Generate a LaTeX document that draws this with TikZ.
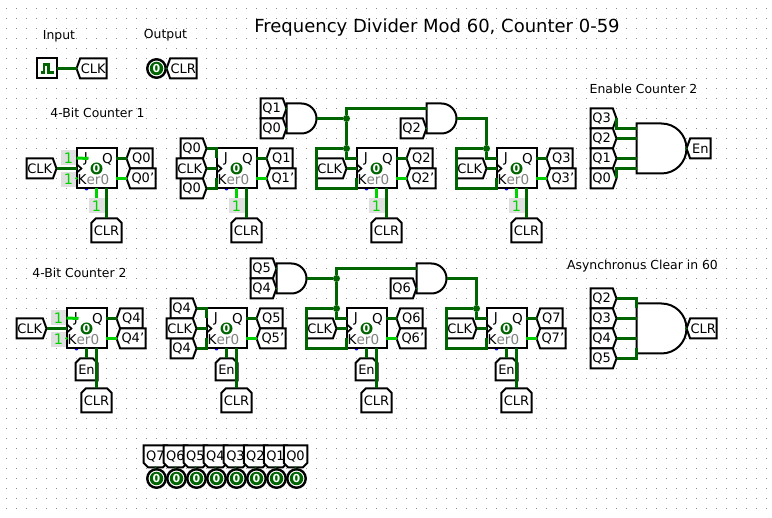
\documentclass[tikz,border=0pt]{standalone}
\usepackage{fontspec}
\setmainfont{DejaVu Sans}
\usetikzlibrary{calc,shapes.symbols,shapes.misc}
\definecolor{dk}{HTML}{006400}
\definecolor{br}{HTML}{00D200}
\definecolor{cg}{HTML}{E0E0E0}
\newcommand{\lbl}{\fontsize{13}{13}\selectfont}
\newcommand{\nlbl}{\fontsize{12.4}{12.4}\selectfont}
\newcommand{\ffl}{\fontsize{13.6}{13.6}\selectfont}
\tikzset{
  tagbase/.style={draw=black,fill=white,line width=2pt,inner sep=0pt,outer sep=0pt,font=\lbl,text=black},
  tagL/.style={tagbase,signal,signal to=west,signal pointer angle=140,minimum height=20,anchor=west},
  tagR/.style={tagbase,signal,signal to=east,signal pointer angle=140,minimum height=20,anchor=east},
  tagU/.style={tagbase,chamfered rectangle,chamfered rectangle corners={north west,north east},chamfered rectangle xsep=2.5pt,chamfered rectangle ysep=2pt,anchor=north},
  tagD/.style={tagbase,chamfered rectangle,chamfered rectangle corners={south west,south east},chamfered rectangle xsep=2.5pt,chamfered rectangle ysep=2pt,anchor=south,minimum width=20,minimum height=22},
  ffbox/.style={draw=black,fill=white,line width=2pt,minimum width=40,minimum height=40,inner sep=0pt,outer sep=0pt},
  wd/.style={draw=dk,line width=3pt},
  wb/.style={draw=br,line width=3pt},
  junc/.style={circle,fill=dk,inner sep=0pt,minimum size=7},
  gate/.style={draw=black,line width=2pt,fill=white},
  cnst/.style={fill=cg,inner sep=0pt,outer sep=0pt,font=\fontsize{14.5}{14.5}\selectfont,text=br,minimum width=16,minimum height=15},
  memo/.style={circle,fill=dk,inner sep=0pt,minimum size=12,text=white,font=\fontsize{11}{11}\selectfont\bfseries},
  ledring/.style={circle,draw=black,line width=2.4pt,fill=white,inner sep=0pt,minimum size=18.5},
  note/.style={font=\nlbl,text=black,inner sep=0pt},
  ffnote/.style={font=\ffl,text=black,inner sep=0pt},
  stub/.style={fill=dk}
}
% flip-flop: name, left x, top y
\newcommand{\flipflop}[3]{%
  \fill[blue] (#2+10,#3+40) circle (2);
  \node[ffbox] (#1) at (#2+20,#3+20) {};
  \coordinate (#1-j) at (#2,#3+10);
  \coordinate (#1-c) at (#2,#3+20);
  \coordinate (#1-k) at (#2,#3+30);
  \coordinate (#1-q) at (#2+40,#3+10);
  \coordinate (#1-n) at (#2+40,#3+30);
  \coordinate (#1-r) at (#2+20,#3+40);
  \coordinate (#1-z) at (#2+30,#3+40);
  \draw[black,line width=1.6pt] (#2,#3+15.5) -- (#2+5,#3+20) -- (#2,#3+24.5);
  \node[ffnote] (#1-J) at (#2+9.5,#3+10) {J};
  \node[ffnote] (#1-Q) at (#2+31,#3+11) {Q};
  \node[memo] (#1-M) at (#2+20,#3+20) {0};
  \node[ffnote,anchor=west] (#1-L) at (#2+1,#3+31.5) {K\textcolor{gray}{er0}};
}
% small AND gate: name, left x, centre y
\newcommand{\andsmall}[3]{%
  \draw[gate] (#2,#3-15) -- (#2+15,#3-15) arc[start angle=90,end angle=-90,radius=15pt] -- (#2,#3+15) -- cycle;
  \coordinate (#1-a) at (#2,#3-10);
  \coordinate (#1-b) at (#2,#3+10);
  \coordinate (#1-o) at (#2+30,#3);
}
% big AND gate: name, left x, centre y
\newcommand{\andbig}[3]{%
  \draw[gate] (#2,#3-25) -- (#2+25,#3-25) arc[start angle=90,end angle=-90,radius=25pt] -- (#2,#3+25) -- cycle;
  \coordinate (#1-a) at (#2,#3-20);
  \coordinate (#1-b) at (#2,#3-10);
  \coordinate (#1-c) at (#2,#3+10);
  \coordinate (#1-d) at (#2,#3+20);
  \coordinate (#1-o) at (#2+50,#3);
}
% output LED: name, x, y
\newcommand{\led}[3]{%
  \node[ledring] (#1) at (#2,#3) {};
  \node[memo,minimum size=13.5] (#1-M) at (#2,#3) {0};
}
\begin{document}
\begin{tikzpicture}[x=1pt,y=-1pt]
\fill[white] (0,0) rectangle (772,518);
\useasboundingbox (0,0) rectangle (772,518);
\begin{scope}[shift={(0.5,0.5)}]
% grid
\foreach \gy in {8,18,...,508}
  \draw[draw=black!45,line width=1pt,dash pattern=on 1pt off 9pt] (5.5,\gy) -- (767,\gy);

% texts
\node[note,font=\fontsize{18}{18}\selectfont] (title) at (436.5,27) {Frequency Divider Mod 60, Counter 0-59};
\node[note] (tinput) at (58.5,36) {Input};
\node[note] (toutput) at (165,35) {Output};
\node[note] (tc1) at (97,112) {4-Bit Counter 1};
\node[note] (tc2) at (79,272) {4-Bit Counter 2};
\node[note] (ten) at (643,88) {Enable Counter 2};
\node[note] (tas) at (642,266) {Asynchronus Clear in 60};

% legend
\node[draw=black,fill=white,line width=2pt,minimum size=20,inner sep=0pt,outer sep=0pt] (clksrc) at (46,68) {};
\draw[dk,line width=2.6pt] (40,72) -- (43.5,72) -- (43.5,64) -- (48,64) -- (48,72) -- (53,72);
\node[tagL,minimum width=30] (lclk) at (76,68) {CLK};
\draw[wd] (clksrc.east) -- (lclk.west);
\led{lled}{156}{68}
\node[tagL,minimum width=30] (lclr) at (166,68) {CLR};
\draw[stub,draw=none] (lclr.west) circle (1.2);

% ===== top row =====
\node[cnst] (c1) at (68,157.5) {1};
\node[cnst] (c2) at (68,179) {1};
\node[cnst] (c3) at (96,205.5) {1};
\node[cnst] (c4) at (236,205.5) {1};
\node[cnst] (c5) at (376,205.5) {1};
\node[cnst] (c6) at (516,205.5) {1};
\flipflop{a}{76}{148}
\flipflop{b}{216}{148}
\flipflop{e}{356}{148}
\flipflop{f}{496}{148}
% outputs
\node[tagL,minimum width=26] (aq) at (126,158) {Q0};
\node[tagL,minimum width=29] (an) at (126,178) {Q0'};
\node[tagL,minimum width=26] (bq) at (266,158) {Q1};
\node[tagL,minimum width=29] (bn) at (266,178) {Q1'};
\node[tagL,minimum width=26] (eq) at (406,158) {Q2};
\node[tagL,minimum width=29] (en) at (406,178) {Q2'};
\node[tagL,minimum width=26] (fq) at (546,158) {Q3};
\node[tagL,minimum width=29] (fn) at (546,178) {Q3'};
% inputs
\node[tagR,minimum width=30] (aclk) at (56,168) {CLK};
\node[tagR,minimum width=26] (bj) at (206,148) {Q0};
\node[tagR,minimum width=26] (bk) at (206,188) {Q0};
\node[tagR,minimum width=30] (bclk) at (206,168) {CLK};
\node[tagR,minimum width=30] (eclk) at (346,168) {CLK};
\node[tagR,minimum width=30] (fclk) at (486,168) {CLK};
% clear tags
\node[tagU,minimum width=28,minimum height=24] (az) at (106,218) {CLR};
\node[tagU,minimum width=28,minimum height=24] (bz) at (246,218) {CLR};
\node[tagU,minimum width=28,minimum height=24] (ez) at (386,218) {CLR};
\node[tagU,minimum width=28,minimum height=24] (fz) at (526,218) {CLR};
% gates
\node[tagR,minimum width=26] (g1a) at (286,108) {Q1};
\node[tagR,minimum width=26] (g1b) at (286,128) {Q0};
\node[tagR,minimum width=26] (g2b) at (426,128) {Q2};
\andsmall{g}{286}{118}
\andsmall{h}{426}{118}
\node[junc] (j1) at (346,118) {};
\node[junc] (j2) at (346,148) {};
\node[junc] (j3) at (486,148) {};
% wires
\foreach \p/\t in {a/aq,b/bq,e/eq,f/fq} \draw[wd] ($(\p-q)+(-1,0)$) -- (\t.west);
\foreach \p/\t in {a/an,b/bn,e/en,f/fn} \draw[wb] ($(\p-n)+(-1,0)$) -- (\t.west);
\draw[wb] (c1.east) -- ($(a-j)+(12,0)$);
\fill[br] (a-k) circle (1.5);
\draw[wd] (aclk.east) -- (a-c);
\foreach \p/\c in {a/c3,b/c4,e/c5,f/c6} \draw[wb] (\p-r) -- (\c.north);
\foreach \p/\t in {a/az,b/bz,e/ez,f/fz} \draw[wd] (\p-z) -- (\t.north);
\draw[wd] (bj.east) -| (b-j);
\draw[wd] (bk.east) -| (b-k);
\draw[wd] (bclk.east) -- (b-c);
\draw[wd] (eclk.east) -- (e-c);
\draw[wd] (fclk.east) -- (f-c);
\fill[dk] (g-a) circle (1.2) (g-b) circle (1.2) (h-b) circle (1.2);
\draw[wd] (g-o) -- (j1) -- (j2) |- (e-j);
\draw[wd] (j1) |- (h-a);
\draw[wd,line join=miter] (j2) -- (316,148) -- (316,188) -- (356,188) -- (e-k);
\draw[wd] (h-o) -| (j3) |- (f-j);
\draw[wd,line join=miter] (j3) -- (456,148) -- (456,188) -- (496,188) -- (f-k);

% ===== bottom row =====
\node[cnst] (d1) at (58,317.5) {1};
\node[cnst] (d2) at (58,339) {1};
\flipflop{p}{66}{308}
\flipflop{r}{206}{308}
\flipflop{s}{346}{308}
\flipflop{t}{486}{308}
\node[tagL,minimum width=26] (pq) at (116,318) {Q4};
\node[tagL,minimum width=29] (pn) at (116,338) {Q4'};
\node[tagL,minimum width=26] (rq) at (256,318) {Q5};
\node[tagL,minimum width=29] (rn) at (256,338) {Q5'};
\node[tagL,minimum width=26] (sq) at (396,318) {Q6};
\node[tagL,minimum width=29] (sn) at (396,338) {Q6'};
\node[tagL,minimum width=26] (tq) at (536,318) {Q7};
\node[tagL,minimum width=29] (tn) at (536,338) {Q7'};
\node[tagR,minimum width=30] (pclk) at (46,328) {CLK};
\node[tagR,minimum width=26] (rj) at (196,308) {Q4};
\node[tagR,minimum width=26] (rk) at (196,348) {Q4};
\node[tagR,minimum width=30] (rclk) at (196,328) {CLK};
\node[tagR,minimum width=30] (sclk) at (336,328) {CLK};
\node[tagR,minimum width=30] (tclk) at (476,328) {CLK};
\node[tagU,minimum width=22,minimum height=22] (pe) at (86,358) {En};
\node[tagU,minimum width=22,minimum height=22] (re) at (226,358) {En};
\node[tagU,minimum width=22,minimum height=22] (se) at (366,358) {En};
\node[tagU,minimum width=22,minimum height=22] (te) at (506,358) {En};
\node[tagU,minimum width=28,minimum height=24] (pz) at (96,388) {CLR};
\node[tagU,minimum width=28,minimum height=24] (rz) at (236,388) {CLR};
\node[tagU,minimum width=28,minimum height=24] (sz) at (376,388) {CLR};
\node[tagU,minimum width=28,minimum height=24] (tz) at (516,388) {CLR};
\node[tagR,minimum width=26] (k1a) at (276,268) {Q5};
\node[tagR,minimum width=26] (k1b) at (276,288) {Q4};
\node[tagR,minimum width=26] (k2b) at (416,288) {Q6};
\andsmall{m}{276}{278}
\andsmall{o}{416}{278}
\node[junc] (j4) at (336,278) {};
\node[junc] (j5) at (336,308) {};
\node[junc] (j6) at (476,308) {};
\foreach \p/\t in {p/pq,r/rq,s/sq,t/tq} \draw[wd] ($(\p-q)+(-1,0)$) -- (\t.west);
\foreach \p/\t in {p/pn,r/rn,s/sn,t/tn} \draw[wb] ($(\p-n)+(-1,0)$) -- (\t.west);
\draw[wb] (d1.east) -- ($(p-j)+(12,0)$);
\fill[br] (p-k) circle (1.5);
\draw[wd] (pclk.east) -- (p-c);
\foreach \p/\e in {p/pe,r/re,s/se,t/te} \draw[wd] (\p-r) -- (\e.north);
\foreach \p/\t in {p/pz,r/rz,s/sz,t/tz} \draw[wd] (\p-z) -- (\t.north);
\draw[wd] (rj.east) -| (r-j);
\draw[wd] (rk.east) -| (r-k);
\draw[wd] (rclk.east) -- (r-c);
\draw[wd] (sclk.east) -- (s-c);
\draw[wd] (tclk.east) -- (t-c);
\fill[dk] (m-a) circle (1.2) (m-b) circle (1.2) (o-b) circle (1.2);
\draw[wd] (m-o) -- (j4) -- (j5) |- (s-j);
\draw[wd] (j4) |- (o-a);
\draw[wd,line join=miter] (j5) -- (306,308) -- (306,348) -- (346,348) -- (s-k);
\draw[wd] (o-o) -| (j6) |- (t-j);
\draw[wd,line join=miter] (j6) -- (446,308) -- (446,348) -- (486,348) -- (t-k);

% ===== Enable =====
\node[tagR,minimum width=26] (u3) at (616,118) {Q3};
\node[tagR,minimum width=26] (u2) at (616,138) {Q2};
\node[tagR,minimum width=26] (u1) at (616,158) {Q1};
\node[tagR,minimum width=26] (u0) at (616,178) {Q0};
\andbig{x}{636}{148}
\node[tagL,minimum width=24] (enout) at (686,148) {En};
\draw[wd] (u3.east) |- (x-a);
\draw[wd] (u2.east) -- (x-b);
\draw[wd] (u1.east) -- (x-c);
\draw[wd] (u0.east) |- (x-d);
\fill[dk] (x-o) circle (1.2);

% ===== Clear =====
\node[tagR,minimum width=26] (v2) at (616,298) {Q2};
\node[tagR,minimum width=26] (v3) at (616,318) {Q3};
\node[tagR,minimum width=26] (v4) at (616,338) {Q4};
\node[tagR,minimum width=26] (v5) at (616,358) {Q5};
\andbig{y}{636}{328}
\node[tagL,minimum width=30] (clrout) at (686,328) {CLR};
\draw[wd] (v2.east) -| (y-a);
\draw[wd] (v3.east) -- (y-b);
\draw[wd] (v4.east) -- (y-c);
\draw[wd] (v5.east) -| (y-d);
\fill[dk] (y-o) circle (1.2);

% ===== bottom probes =====
\foreach \i/\xx in {7/155,6/175,5/195,4/215,3/235,2/255,1/275,0/295}{
  \led{led\i}{\xx+1}{478}
  \node[tagD] (pr\i) at (\xx,467) {Q\i};
  \fill[dk] (pr\i.south) circle (1.2);
}
\end{scope}
\end{tikzpicture}
\end{document}
